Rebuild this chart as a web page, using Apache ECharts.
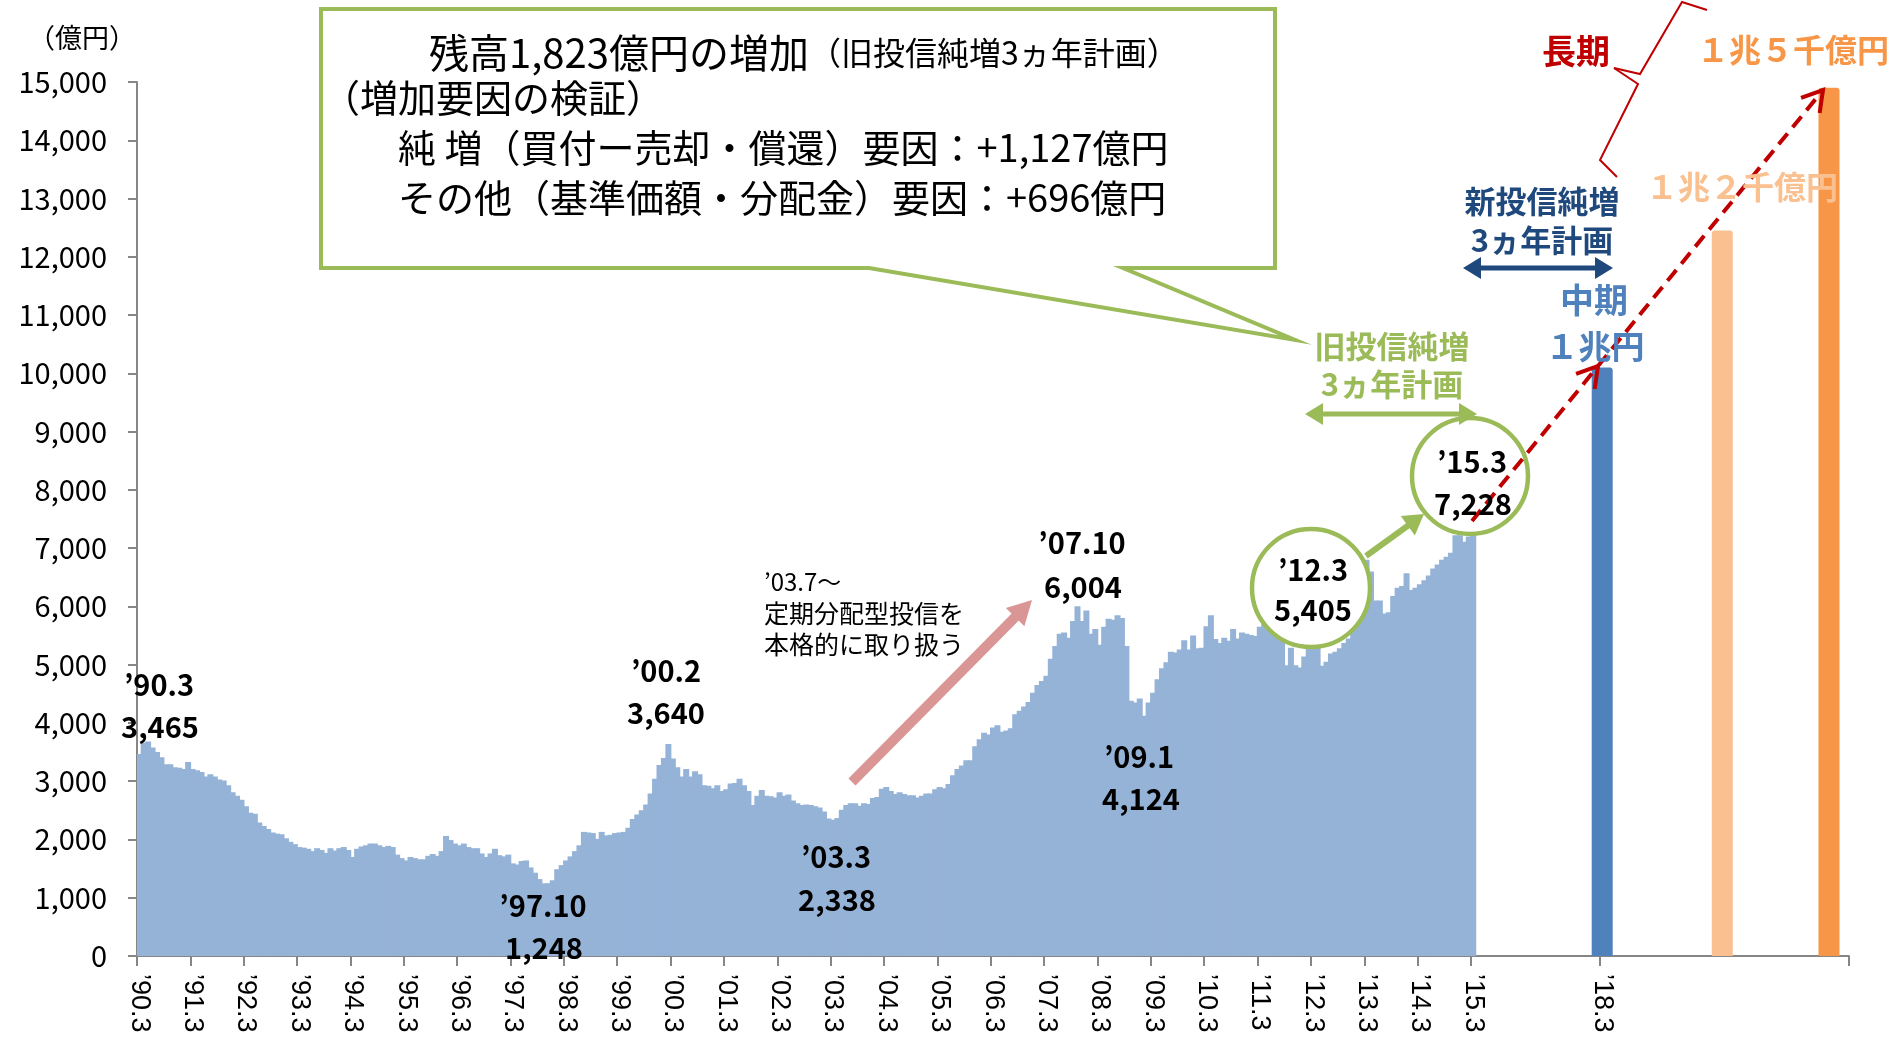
<!DOCTYPE html>
<html>
<head>
<meta charset="utf-8">
<script src="https://cdn.jsdelivr.net/npm/echarts@6/dist/echarts.min.js"></script>
<style>
html,body{margin:0;padding:0;background:#fff;}
#chart{width:1893px;height:1045px;}
</style>
</head>
<body>
<div id="chart"></div>
<script>
// 投信残高（月末、億円） '90.3 - '15.3
var balance = [
  3465, 3660, 3680, 3580, 3500, 3410, 3290, 3290, 3240, 3230, 3210, 3330,
  3210, 3190, 3160, 3080, 3120, 3080, 3030, 3010, 2930, 2810, 2750, 2680,
  2570, 2460, 2440, 2290, 2230, 2180, 2120, 2100, 2090, 2020, 1960, 1920,
  1870, 1860, 1840, 1800, 1850, 1820, 1770, 1850, 1810, 1850, 1870, 1820,
  1700, 1840, 1880, 1900, 1930, 1930, 1900, 1870, 1890, 1870, 1740, 1680,
  1640, 1700, 1680, 1660, 1660, 1720, 1750, 1720, 1800, 2060, 1990, 1930,
  1900, 1930, 1870, 1850, 1850, 1760, 1700, 1760, 1840, 1730, 1710, 1740,
  1590, 1570, 1630, 1640, 1520, 1430, 1320, 1248, 1250, 1300, 1490, 1560,
  1640, 1710, 1800, 1900, 2130, 2120, 2110, 2010, 2130, 2070, 2080, 2110,
  2120, 2130, 2200, 2350, 2430, 2500, 2600, 2790, 3040, 3280, 3400, 3640,
  3390, 3240, 3080, 3210, 3080, 3170, 3120, 2930, 2920, 2880, 2930, 2830,
  2860, 2960, 2970, 3040, 2930, 2830, 2590, 2750, 2850, 2750, 2740, 2720,
  2810, 2750, 2770, 2670, 2620, 2590, 2600, 2590, 2570, 2550, 2480, 2360,
  2338, 2370, 2510, 2590, 2620, 2620, 2580, 2620, 2610, 2710, 2730, 2870,
  2900, 2830, 2780, 2810, 2780, 2760, 2760, 2720, 2750, 2790, 2790, 2860,
  2900, 2880, 2950, 3100, 3210, 3270, 3360, 3360, 3600, 3720, 3830, 3800,
  3920, 3960, 3850, 3870, 3910, 4150, 4210, 4280, 4360, 4520, 4650, 4720,
  4810, 5100, 5320, 5530, 5550, 5460, 5750, 6004, 5750, 5930, 5530, 5610,
  5340, 5650, 5790, 5770, 5850, 5800, 5320, 4380, 4350, 4420, 4124, 4350,
  4520, 4750, 4940, 5040, 5220, 5210, 5260, 5420, 5260, 5500, 5280, 5290,
  5660, 5850, 5440, 5370, 5460, 5410, 5610, 5450, 5550, 5530, 5510, 5490,
  5650, 5700, 5750, 5650, 5500, 5490, 4990, 5290, 4990, 4950, 5140, 5480,
  5405, 5300, 4980, 5050, 5190, 5220, 5280, 5370, 5450, 5600, 6200, 6250,
  6800, 6600, 6100, 6100, 5880, 5900, 6180, 6320, 6350, 6570, 6280, 6320,
  6380, 6450, 6530, 6650, 6720, 6800, 6850, 6920, 7220, 7220, 7110, 7200,
  7228
];

var tickLabels = ['’90.3', '’91.3', '’92.3', '’93.3', '’94.3', '’95.3', '’96.3', '’97.3',
  '’98.3', '’99.3', '’00.3', '’01.3', '’02.3', '’03.3', '’04.3', '’05.3', '’06.3',
  '’07.3', '’08.3', '’09.3', '’10.3', '’11.3', '’12.3', '’13.3', '’14.3', '’15.3', '’18.3'];

// 目標（中期・長期）
var planNames = ['’18.3', '長期1', '長期2'];
var planValues = [10100, 12450, 14900];

var planColors = ['#4F81BD', '#FAC090', '#F79646'];
var planGaps = [28, 26, 23];
var tailGap = 4;

var FONT = '"Noto Sans CJK JP", sans-serif';

// categories: one per month, then empty slots and the plan bars
var categories = [];
for (var i = 0; i < balance.length; i++) {
  var m = 3 + i;
  var yy = 1990 + Math.floor((m - 1) / 12);
  var mm = (m - 1) % 12 + 1;
  categories.push('’' + String(yy).slice(2) + '.' + mm);
}
var monthlyData = balance.slice();
var planData = balance.map(function () { return '-'; });
var gapNo = 0;
function addGap(n) {
  for (var g = 0; g < n; g++) {
    categories.push('gap' + (gapNo++));
    monthlyData.push('-');
    planData.push('-');
  }
}
planNames.forEach(function (name, k) {
  addGap(planGaps[k]);
  categories.push(name);
  monthlyData.push('-');
  planData.push({ value: planValues[k], itemStyle: { color: planColors[k] } });
});
addGap(tailGap);

function showTick(index, value) {
  return tickLabels.indexOf(value) >= 0;
}

// ---- annotation helpers ----
function txt(x, y, text, size, color, weight, align) {
  return {
    type: 'text', x: x, y: y, z: 110,
    style: {
      text: text,
      fill: color || '#000',
      font: (weight || 'normal') + ' ' + size + 'px ' + FONT,
      textAlign: align || 'center',
      textVerticalAlign: 'middle'
    }
  };
}
function headPts(x1, y1, x2, y2, len, half) {
  var dx = x2 - x1, dy = y2 - y1, L = Math.sqrt(dx * dx + dy * dy);
  var ux = dx / L, uy = dy / L;
  var bx = x2 - ux * len, by = y2 - uy * len;
  return [[x2, y2], [bx - uy * half, by + ux * half], [bx + uy * half, by - ux * half]];
}
function arrow(x1, y1, x2, y2, color, w, len, half, both) {
  var dx = x2 - x1, dy = y2 - y1, L = Math.sqrt(dx * dx + dy * dy);
  var ux = dx / L, uy = dy / L;
  var sx = both ? x1 + ux * len * 0.7 : x1, sy = both ? y1 + uy * len * 0.7 : y1;
  var out = [{
    type: 'line', z: 105,
    shape: { x1: sx, y1: sy, x2: x2 - ux * len * 0.7, y2: y2 - uy * len * 0.7 },
    style: { stroke: color, lineWidth: w }
  }, {
    type: 'polygon', z: 105,
    shape: { points: headPts(x1, y1, x2, y2, len, half) },
    style: { fill: color }
  }];
  if (both) {
    out.push({
      type: 'polygon', z: 105,
      shape: { points: headPts(x2, y2, x1, y1, len, half) },
      style: { fill: color }
    });
  }
  return out;
}
function dashArrow(x1, y1, x2, y2) {
  var p = headPts(x1, y1, x2, y2, 20, 12);
  return [{
    type: 'line', z: 106,
    shape: { x1: x1, y1: y1, x2: x2, y2: y2 },
    style: { stroke: '#C00000', lineWidth: 4, lineDash: [14, 8] }
  }, {
    type: 'polyline', z: 106,
    shape: { points: [p[1], p[0], p[2]] },
    style: { stroke: '#C00000', lineWidth: 4, fill: null }
  }];
}

var green = '#9BBB59';
var graphics = [];

// callout box
graphics.push({
  type: 'polygon', z: 100,
  shape: { points: [[321, 9], [1275, 9], [1275, 268], [1123, 268], [1295, 340], [869, 268], [321, 268]] },
  style: { fill: '#fff', stroke: green, lineWidth: 4 }
});
graphics.push({
  type: 'text', x: 429, y: 53, z: 110,
  style: {
    text: '{a|残高1,823億円の増加}{b|（旧投信純増3ヵ年計画）}',
    textAlign: 'left', textVerticalAlign: 'middle',
    rich: {
      a: { fontSize: 40, fontFamily: FONT, fill: '#000' },
      b: { fontSize: 32, fontFamily: FONT, fill: '#000' }
    }
  }
});
graphics.push(txt(322, 98, '（増加要因の検証）', 38, '#000', 'normal', 'left'));
graphics.push(txt(398, 148, '純 増（買付ー売却・償還）要因：+1,127億円', 38, '#000', 'normal', 'left'));
graphics.push(txt(398, 198, 'その他（基準価額・分配金）要因：+696億円', 38, '#000', 'normal', 'left'));

// y unit
graphics.push(txt(82, 38, '（億円）', 27, '#000'));

// pink arrow + note
graphics = graphics.concat(arrow(852, 782, 1032, 600, '#D99694', 10, 24, 13, false));
graphics.push(txt(764, 582, '’03.7～', 24, '#000', 'normal', 'left'));
graphics.push(txt(764, 613, '定期分配型投信を', 25, '#000', 'normal', 'left'));
graphics.push(txt(764, 644, '本格的に取り扱う', 25, '#000', 'normal', 'left'));

// point labels
var pts = [
  [159, 685, '’90.3'], [160, 727, '3,465'],
  [666, 671, '’00.2'], [666, 713, '3,640'],
  [543, 906, '’97.10'], [544, 948, '1,248'],
  [836, 857, '’03.3'], [837, 900, '2,338'],
  [1082, 543, '’07.10'], [1083, 587, '6,004'],
  [1139, 757, '’09.1'], [1141, 799, '4,124']
];
pts.forEach(function (p) { graphics.push(txt(p[0], p[1], p[2], 29, '#000', 'bold')); });

// circles
graphics.push({ type: 'circle', z: 102, shape: { cx: 1311, cy: 588, r: 59 }, style: { fill: '#fff', stroke: green, lineWidth: 4.5 } });
graphics.push({ type: 'circle', z: 102, shape: { cx: 1470, cy: 476, r: 58 }, style: { fill: '#fff', stroke: green, lineWidth: 4.5 } });
graphics = graphics.concat(arrow(1366, 556, 1424, 514, green, 6, 20, 12, false));

// red dashed trend arrows
graphics = graphics.concat(dashArrow(1472, 521, 1598, 366));
graphics = graphics.concat(dashArrow(1598, 366, 1823, 90));

graphics.push(txt(1313, 570, '’12.3', 29, '#000', 'bold'));
graphics.push(txt(1313, 610, '5,405', 29, '#000', 'bold'));
graphics.push(txt(1472, 462, '’15.3', 29, '#000', 'bold'));
graphics.push(txt(1473, 504, '7,228', 29, '#000', 'bold'));

// plan period arrows
graphics = graphics.concat(arrow(1305, 414, 1477, 414, green, 5, 18, 11, true));
graphics.push(txt(1392, 346, '旧投信純増', 31, green, 'bold'));
graphics.push(txt(1392, 384, '3ヵ年計画', 31, green, 'bold'));
graphics = graphics.concat(arrow(1463, 268, 1613, 268, '#1F497D', 5, 18, 11, true));
graphics.push(txt(1542, 201, '新投信純増', 31, '#1F497D', 'bold'));
graphics.push(txt(1542, 240, '3ヵ年計画', 31, '#1F497D', 'bold'));

graphics.push(txt(1594, 300, '中期', 34, '#4F81BD', 'bold'));
graphics.push(txt(1595, 346, '１兆円', 33, '#4F81BD', 'bold'));
graphics.push(txt(1742, 187, '１兆２千億円', 32, '#FAC090', 'bold'));
graphics.push(txt(1793, 50, '１兆５千億円', 32, '#F79646', 'bold'));
graphics.push(txt(1576, 51, '長期', 34, '#C00000', 'bold'));

// brace for 長期
graphics.push({
  type: 'polyline', z: 104,
  shape: { points: [[1707, 10], [1682, 2], [1640, 74], [1614, 68]] },
  style: { stroke: '#C00000', lineWidth: 2, fill: null }
});
graphics.push({
  type: 'polyline', z: 104,
  shape: { points: [[1614, 68], [1638, 84], [1600, 160], [1617, 177]] },
  style: { stroke: '#C00000', lineWidth: 2, fill: null }
});

var myChart = echarts.init(document.getElementById('chart'));
var option = {
  animation: false,
  backgroundColor: '#fff',
  grid: { left: 137, right: 44, top: 82, bottom: 89, containLabel: false },
  xAxis: [
    {
      type: 'category',
      data: categories,
      boundaryGap: true,
      axisLine: { lineStyle: { color: '#868686', width: 2 } },
      axisTick: { show: true, interval: showTick, length: 10, lineStyle: { color: '#868686', width: 2 } },
      axisLabel: {
        interval: showTick,
        rotate: -90,
        margin: 18,
        fontSize: 27,
        fontFamily: '"Liberation Sans", Arial, sans-serif',
        color: '#000'
      }
    },
    { type: 'category', data: categories, show: false }
  ],
  yAxis: {
    type: 'value',
    min: 0,
    max: 15000,
    interval: 1000,
    splitLine: { show: false },
    axisLine: { show: true, lineStyle: { color: '#868686', width: 2 } },
    axisTick: { show: true, length: 9, lineStyle: { color: '#868686', width: 2 } },
    axisLabel: {
      margin: 30,
      fontSize: 29,
      fontFamily: FONT,
      color: '#000',
      formatter: function (v) { return v.toLocaleString('en-US'); }
    }
  },
  series: [
    {
      type: 'bar',
      xAxisIndex: 0,
      data: monthlyData,
      barWidth: 6,
      itemStyle: { color: '#95B3D7' },
      silent: true
    },
    {
      type: 'bar',
      xAxisIndex: 1,
      data: planData,
      barWidth: 21,
      itemStyle: { borderRadius: [3, 3, 0, 0] },
      silent: true
    }
  ],
  graphic: graphics
};
myChart.setOption(option, true);
</script>
</body>
</html>
